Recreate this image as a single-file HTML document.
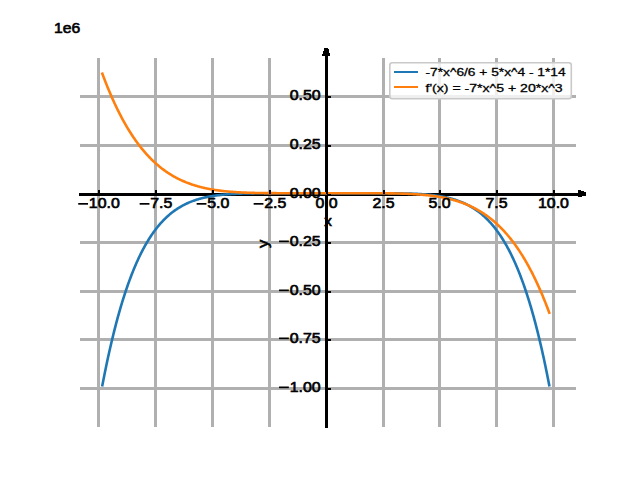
<!DOCTYPE html>
<html><head><meta charset="utf-8"><style>
html,body{margin:0;padding:0;background:#fff;}
svg{display:block;}
.t{font-family:"Liberation Sans",sans-serif;font-size:13.9px;font-weight:normal;fill:#000;stroke:#000;stroke-width:0.6px;}
.l{font-family:"Liberation Sans",sans-serif;font-size:11.3px;fill:#000;stroke:#000;stroke-width:0.3px;}
</style></head><body>
<svg width="640" height="480" viewBox="0 0 640 480">
<rect width="640" height="480" fill="#fff"/>
<g shape-rendering="crispEdges">
<rect x="97" y="58" width="3" height="369" fill="#b0b0b0"/>
<rect x="154" y="58" width="3" height="369" fill="#b0b0b0"/>
<rect x="211" y="58" width="3" height="369" fill="#b0b0b0"/>
<rect x="268" y="58" width="3" height="369" fill="#b0b0b0"/>
<rect x="382" y="58" width="3" height="369" fill="#b0b0b0"/>
<rect x="438" y="58" width="3" height="369" fill="#b0b0b0"/>
<rect x="495" y="58" width="3" height="369" fill="#b0b0b0"/>
<rect x="552" y="58" width="3" height="369" fill="#b0b0b0"/>
<rect x="80" y="95" width="496" height="3" fill="#b0b0b0"/>
<rect x="80" y="144" width="496" height="3" fill="#b0b0b0"/>
<rect x="80" y="241" width="496" height="3" fill="#b0b0b0"/>
<rect x="80" y="290" width="496" height="3" fill="#b0b0b0"/>
<rect x="80" y="338" width="496" height="3" fill="#b0b0b0"/>
<rect x="80" y="387" width="496" height="3" fill="#b0b0b0"/>
</g>
<g shape-rendering="crispEdges">
<rect x="79" y="193" width="507" height="3" fill="#000"/>
<rect x="325" y="48" width="3" height="380" fill="#000"/>
<polygon points="324.6,48 328.2,48 330.2,56 321.8,56" fill="#000"/>
<polygon points="577.8,189.6 586.2,192.1 586.2,195.5 577.8,197.4" fill="#000"/>
</g>
<path d="M102.36,385.34 L103.00,382.02 L103.64,378.74 L104.28,375.51 L104.92,372.33 L105.56,369.19 L106.20,366.10 L106.84,363.05 L107.47,360.05 L108.11,357.09 L108.75,354.18 L109.39,351.31 L110.03,348.48 L110.67,345.69 L111.31,342.95 L111.95,340.25 L112.59,337.59 L113.23,334.96 L113.87,332.38 L114.51,329.84 L115.15,327.33 L115.79,324.87 L116.42,322.44 L117.06,320.05 L117.70,317.69 L118.34,315.37 L118.98,313.09 L119.62,310.84 L120.26,308.63 L120.90,306.46 L121.54,304.31 L122.18,302.20 L122.82,300.13 L123.46,298.09 L124.10,296.08 L124.74,294.10 L125.38,292.15 L126.01,290.24 L126.65,288.35 L127.29,286.50 L127.93,284.67 L128.57,282.88 L129.21,281.11 L129.85,279.38 L130.49,277.67 L131.13,275.99 L131.77,274.34 L132.41,272.72 L133.05,271.12 L133.69,269.55 L134.33,268.01 L134.96,266.49 L135.60,265.00 L136.24,263.53 L136.88,262.09 L137.52,260.67 L138.16,259.28 L138.80,257.91 L139.44,256.56 L140.08,255.24 L140.72,253.94 L141.36,252.66 L142.00,251.41 L142.64,250.18 L143.28,248.96 L143.92,247.78 L144.55,246.61 L145.19,245.46 L145.83,244.33 L146.47,243.23 L147.11,242.14 L147.75,241.07 L148.39,240.03 L149.03,239.00 L149.67,237.99 L150.31,237.00 L150.95,236.02 L151.59,235.07 L152.23,234.13 L152.87,233.21 L153.51,232.31 L154.14,231.42 L154.78,230.55 L155.42,229.70 L156.06,228.86 L156.70,228.04 L157.34,227.24 L157.98,226.45 L158.62,225.68 L159.26,224.92 L159.90,224.17 L160.54,223.44 L161.18,222.73 L161.82,222.02 L162.46,221.34 L163.09,220.66 L163.73,220.00 L164.37,219.36 L165.01,218.72 L165.65,218.10 L166.29,217.49 L166.93,216.89 L167.57,216.31 L168.21,215.74 L168.85,215.18 L169.49,214.63 L170.13,214.09 L170.77,213.56 L171.41,213.05 L172.05,212.54 L172.68,212.05 L173.32,211.57 L173.96,211.09 L174.60,210.63 L175.24,210.18 L175.88,209.73 L176.52,209.30 L177.16,208.88 L177.80,208.46 L178.44,208.05 L179.08,207.66 L179.72,207.27 L180.36,206.89 L181.00,206.52 L181.63,206.16 L182.27,205.80 L182.91,205.46 L183.55,205.12 L184.19,204.79 L184.83,204.46 L185.47,204.15 L186.11,203.84 L186.75,203.54 L187.39,203.24 L188.03,202.96 L188.67,202.68 L189.31,202.40 L189.95,202.14 L190.59,201.88 L191.22,201.62 L191.86,201.37 L192.50,201.13 L193.14,200.90 L193.78,200.67 L194.42,200.44 L195.06,200.22 L195.70,200.01 L196.34,199.80 L196.98,199.60 L197.62,199.40 L198.26,199.21 L198.90,199.02 L199.54,198.84 L200.17,198.66 L200.81,198.48 L201.45,198.32 L202.09,198.15 L202.73,197.99 L203.37,197.84 L204.01,197.68 L204.65,197.54 L205.29,197.39 L205.93,197.25 L206.57,197.12 L207.21,196.99 L207.85,196.86 L208.49,196.73 L209.13,196.61 L209.76,196.49 L210.40,196.38 L211.04,196.27 L211.68,196.16 L212.32,196.06 L212.96,195.96 L213.60,195.86 L214.24,195.76 L214.88,195.67 L215.52,195.58 L216.16,195.49 L216.80,195.41 L217.44,195.32 L218.08,195.24 L218.72,195.17 L219.35,195.09 L219.99,195.02 L220.63,194.95 L221.27,194.88 L221.91,194.82 L222.55,194.75 L223.19,194.69 L223.83,194.63 L224.47,194.57 L225.11,194.52 L225.75,194.46 L226.39,194.41 L227.03,194.36 L227.67,194.31 L228.30,194.27 L228.94,194.22 L229.58,194.18 L230.22,194.13 L230.86,194.09 L231.50,194.05 L232.14,194.02 L232.78,193.98 L233.42,193.95 L234.06,193.91 L234.70,193.88 L235.34,193.85 L235.98,193.82 L236.62,193.79 L237.26,193.76 L237.89,193.73 L238.53,193.71 L239.17,193.68 L239.81,193.66 L240.45,193.64 L241.09,193.61 L241.73,193.59 L242.37,193.57 L243.01,193.55 L243.65,193.54 L244.29,193.52 L244.93,193.50 L245.57,193.48 L246.21,193.47 L246.84,193.45 L247.48,193.44 L248.12,193.43 L248.76,193.41 L249.40,193.40 L250.04,193.39 L250.68,193.38 L251.32,193.37 L251.96,193.36 L252.60,193.35 L253.24,193.34 L253.88,193.33 L254.52,193.32 L255.16,193.31 L255.80,193.31 L256.43,193.30 L257.07,193.29 L257.71,193.29 L258.35,193.28 L258.99,193.27 L259.63,193.27 L260.27,193.26 L260.91,193.26 L261.55,193.26 L262.19,193.25 L262.83,193.25 L263.47,193.24 L264.11,193.24 L264.75,193.24 L265.38,193.23 L266.02,193.23 L266.66,193.23 L267.30,193.23 L267.94,193.22 L268.58,193.22 L269.22,193.22 L269.86,193.22 L270.50,193.22 L271.14,193.21 L271.78,193.21 L272.42,193.21 L273.06,193.21 L273.70,193.21 L274.34,193.21 L274.97,193.21 L275.61,193.21 L276.25,193.20 L276.89,193.20 L277.53,193.20 L278.17,193.20 L278.81,193.20 L279.45,193.20 L280.09,193.20 L280.73,193.20 L281.37,193.20 L282.01,193.20 L282.65,193.20 L283.29,193.20 L283.92,193.20 L284.56,193.20 L285.20,193.20 L285.84,193.20 L286.48,193.20 L287.12,193.20 L287.76,193.20 L288.40,193.20 L289.04,193.20 L289.68,193.20 L290.32,193.20 L290.96,193.20 L291.60,193.20 L292.24,193.20 L292.88,193.20 L293.51,193.20 L294.15,193.20 L294.79,193.20 L295.43,193.20 L296.07,193.20 L296.71,193.20 L297.35,193.20 L297.99,193.20 L298.63,193.20 L299.27,193.20 L299.91,193.20 L300.55,193.20 L301.19,193.20 L301.83,193.20 L302.47,193.20 L303.10,193.20 L303.74,193.20 L304.38,193.20 L305.02,193.20 L305.66,193.20 L306.30,193.20 L306.94,193.20 L307.58,193.20 L308.22,193.20 L308.86,193.20 L309.50,193.20 L310.14,193.20 L310.78,193.20 L311.42,193.20 L312.05,193.20 L312.69,193.20 L313.33,193.20 L313.97,193.20 L314.61,193.20 L315.25,193.20 L315.89,193.20 L316.53,193.20 L317.17,193.20 L317.81,193.20 L318.45,193.20 L319.09,193.20 L319.73,193.20 L320.37,193.20 L321.01,193.20 L321.64,193.20 L322.28,193.20 L322.92,193.20 L323.56,193.20 L324.20,193.20 L324.84,193.20 L325.48,193.20 L326.12,193.20 L326.76,193.20 L327.40,193.20 L328.04,193.20 L328.68,193.20 L329.32,193.20 L329.96,193.20 L330.59,193.20 L331.23,193.20 L331.87,193.20 L332.51,193.20 L333.15,193.20 L333.79,193.20 L334.43,193.20 L335.07,193.20 L335.71,193.20 L336.35,193.20 L336.99,193.20 L337.63,193.20 L338.27,193.20 L338.91,193.20 L339.55,193.20 L340.18,193.20 L340.82,193.20 L341.46,193.20 L342.10,193.20 L342.74,193.20 L343.38,193.20 L344.02,193.20 L344.66,193.20 L345.30,193.20 L345.94,193.20 L346.58,193.20 L347.22,193.20 L347.86,193.20 L348.50,193.20 L349.13,193.20 L349.77,193.20 L350.41,193.20 L351.05,193.20 L351.69,193.20 L352.33,193.20 L352.97,193.20 L353.61,193.20 L354.25,193.20 L354.89,193.20 L355.53,193.20 L356.17,193.20 L356.81,193.20 L357.45,193.20 L358.09,193.20 L358.72,193.20 L359.36,193.20 L360.00,193.20 L360.64,193.20 L361.28,193.20 L361.92,193.20 L362.56,193.20 L363.20,193.20 L363.84,193.20 L364.48,193.20 L365.12,193.20 L365.76,193.20 L366.40,193.20 L367.04,193.20 L367.68,193.20 L368.31,193.20 L368.95,193.20 L369.59,193.20 L370.23,193.20 L370.87,193.20 L371.51,193.20 L372.15,193.20 L372.79,193.20 L373.43,193.20 L374.07,193.20 L374.71,193.20 L375.35,193.20 L375.99,193.21 L376.63,193.21 L377.26,193.21 L377.90,193.21 L378.54,193.21 L379.18,193.21 L379.82,193.21 L380.46,193.21 L381.10,193.22 L381.74,193.22 L382.38,193.22 L383.02,193.22 L383.66,193.22 L384.30,193.23 L384.94,193.23 L385.58,193.23 L386.22,193.23 L386.85,193.24 L387.49,193.24 L388.13,193.24 L388.77,193.25 L389.41,193.25 L390.05,193.26 L390.69,193.26 L391.33,193.26 L391.97,193.27 L392.61,193.27 L393.25,193.28 L393.89,193.29 L394.53,193.29 L395.17,193.30 L395.80,193.31 L396.44,193.31 L397.08,193.32 L397.72,193.33 L398.36,193.34 L399.00,193.35 L399.64,193.36 L400.28,193.37 L400.92,193.38 L401.56,193.39 L402.20,193.40 L402.84,193.41 L403.48,193.43 L404.12,193.44 L404.76,193.45 L405.39,193.47 L406.03,193.48 L406.67,193.50 L407.31,193.52 L407.95,193.54 L408.59,193.55 L409.23,193.57 L409.87,193.59 L410.51,193.61 L411.15,193.64 L411.79,193.66 L412.43,193.68 L413.07,193.71 L413.71,193.73 L414.34,193.76 L414.98,193.79 L415.62,193.82 L416.26,193.85 L416.90,193.88 L417.54,193.91 L418.18,193.95 L418.82,193.98 L419.46,194.02 L420.10,194.05 L420.74,194.09 L421.38,194.13 L422.02,194.18 L422.66,194.22 L423.30,194.27 L423.93,194.31 L424.57,194.36 L425.21,194.41 L425.85,194.46 L426.49,194.52 L427.13,194.57 L427.77,194.63 L428.41,194.69 L429.05,194.75 L429.69,194.82 L430.33,194.88 L430.97,194.95 L431.61,195.02 L432.25,195.09 L432.88,195.17 L433.52,195.24 L434.16,195.32 L434.80,195.41 L435.44,195.49 L436.08,195.58 L436.72,195.67 L437.36,195.76 L438.00,195.86 L438.64,195.96 L439.28,196.06 L439.92,196.16 L440.56,196.27 L441.20,196.38 L441.84,196.49 L442.47,196.61 L443.11,196.73 L443.75,196.86 L444.39,196.99 L445.03,197.12 L445.67,197.25 L446.31,197.39 L446.95,197.54 L447.59,197.68 L448.23,197.84 L448.87,197.99 L449.51,198.15 L450.15,198.32 L450.79,198.48 L451.43,198.66 L452.06,198.84 L452.70,199.02 L453.34,199.21 L453.98,199.40 L454.62,199.60 L455.26,199.80 L455.90,200.01 L456.54,200.22 L457.18,200.44 L457.82,200.67 L458.46,200.90 L459.10,201.13 L459.74,201.37 L460.38,201.62 L461.01,201.88 L461.65,202.14 L462.29,202.40 L462.93,202.68 L463.57,202.96 L464.21,203.24 L464.85,203.54 L465.49,203.84 L466.13,204.15 L466.77,204.46 L467.41,204.79 L468.05,205.12 L468.69,205.46 L469.33,205.80 L469.97,206.16 L470.60,206.52 L471.24,206.89 L471.88,207.27 L472.52,207.66 L473.16,208.05 L473.80,208.46 L474.44,208.88 L475.08,209.30 L475.72,209.73 L476.36,210.18 L477.00,210.63 L477.64,211.09 L478.28,211.57 L478.92,212.05 L479.55,212.54 L480.19,213.05 L480.83,213.56 L481.47,214.09 L482.11,214.63 L482.75,215.18 L483.39,215.74 L484.03,216.31 L484.67,216.89 L485.31,217.49 L485.95,218.10 L486.59,218.72 L487.23,219.36 L487.87,220.00 L488.51,220.66 L489.14,221.34 L489.78,222.02 L490.42,222.73 L491.06,223.44 L491.70,224.17 L492.34,224.92 L492.98,225.68 L493.62,226.45 L494.26,227.24 L494.90,228.04 L495.54,228.86 L496.18,229.70 L496.82,230.55 L497.46,231.42 L498.09,232.31 L498.73,233.21 L499.37,234.13 L500.01,235.07 L500.65,236.02 L501.29,237.00 L501.93,237.99 L502.57,239.00 L503.21,240.03 L503.85,241.07 L504.49,242.14 L505.13,243.23 L505.77,244.33 L506.41,245.46 L507.05,246.61 L507.68,247.78 L508.32,248.96 L508.96,250.18 L509.60,251.41 L510.24,252.66 L510.88,253.94 L511.52,255.24 L512.16,256.56 L512.80,257.91 L513.44,259.28 L514.08,260.67 L514.72,262.09 L515.36,263.53 L516.00,265.00 L516.64,266.49 L517.27,268.01 L517.91,269.55 L518.55,271.12 L519.19,272.72 L519.83,274.34 L520.47,275.99 L521.11,277.67 L521.75,279.38 L522.39,281.11 L523.03,282.88 L523.67,284.67 L524.31,286.50 L524.95,288.35 L525.59,290.24 L526.22,292.15 L526.86,294.10 L527.50,296.08 L528.14,298.09 L528.78,300.13 L529.42,302.20 L530.06,304.31 L530.70,306.46 L531.34,308.63 L531.98,310.84 L532.62,313.09 L533.26,315.37 L533.90,317.69 L534.54,320.05 L535.18,322.44 L535.81,324.87 L536.45,327.33 L537.09,329.84 L537.73,332.38 L538.37,334.96 L539.01,337.59 L539.65,340.25 L540.29,342.95 L540.93,345.69 L541.57,348.48 L542.21,351.31 L542.85,354.18 L543.49,357.09 L544.13,360.05 L544.76,363.05 L545.40,366.10 L546.04,369.19 L546.68,372.33 L547.32,375.51 L547.96,378.74 L548.60,382.02 L549.24,385.34" fill="none" stroke="#1f77b4" stroke-width="2.6" stroke-linecap="square" stroke-linejoin="round"/>
<path d="M102.36,73.73 L103.00,75.45 L103.64,77.15 L104.28,78.83 L104.92,80.49 L105.56,82.14 L106.20,83.76 L106.84,85.36 L107.47,86.95 L108.11,88.51 L108.75,90.06 L109.39,91.59 L110.03,93.10 L110.67,94.60 L111.31,96.07 L111.95,97.53 L112.59,98.97 L113.23,100.39 L113.87,101.80 L114.51,103.19 L115.15,104.56 L115.79,105.92 L116.42,107.25 L117.06,108.58 L117.70,109.88 L118.34,111.17 L118.98,112.45 L119.62,113.71 L120.26,114.95 L120.90,116.17 L121.54,117.39 L122.18,118.58 L122.82,119.76 L123.46,120.93 L124.10,122.08 L124.74,123.22 L125.38,124.34 L126.01,125.45 L126.65,126.54 L127.29,127.62 L127.93,128.69 L128.57,129.74 L129.21,130.78 L129.85,131.80 L130.49,132.81 L131.13,133.81 L131.77,134.80 L132.41,135.77 L133.05,136.73 L133.69,137.67 L134.33,138.60 L134.96,139.52 L135.60,140.43 L136.24,141.33 L136.88,142.21 L137.52,143.08 L138.16,143.94 L138.80,144.79 L139.44,145.63 L140.08,146.45 L140.72,147.27 L141.36,148.07 L142.00,148.86 L142.64,149.64 L143.28,150.41 L143.92,151.17 L144.55,151.91 L145.19,152.65 L145.83,153.38 L146.47,154.09 L147.11,154.80 L147.75,155.49 L148.39,156.18 L149.03,156.85 L149.67,157.52 L150.31,158.17 L150.95,158.82 L151.59,159.46 L152.23,160.08 L152.87,160.70 L153.51,161.31 L154.14,161.91 L154.78,162.50 L155.42,163.08 L156.06,163.66 L156.70,164.22 L157.34,164.78 L157.98,165.32 L158.62,165.86 L159.26,166.39 L159.90,166.91 L160.54,167.43 L161.18,167.93 L161.82,168.43 L162.46,168.92 L163.09,169.40 L163.73,169.88 L164.37,170.35 L165.01,170.81 L165.65,171.26 L166.29,171.70 L166.93,172.14 L167.57,172.57 L168.21,173.00 L168.85,173.41 L169.49,173.82 L170.13,174.23 L170.77,174.62 L171.41,175.01 L172.05,175.40 L172.68,175.77 L173.32,176.14 L173.96,176.51 L174.60,176.87 L175.24,177.22 L175.88,177.56 L176.52,177.90 L177.16,178.24 L177.80,178.56 L178.44,178.89 L179.08,179.20 L179.72,179.52 L180.36,179.82 L181.00,180.12 L181.63,180.42 L182.27,180.71 L182.91,180.99 L183.55,181.27 L184.19,181.54 L184.83,181.81 L185.47,182.08 L186.11,182.34 L186.75,182.59 L187.39,182.84 L188.03,183.08 L188.67,183.32 L189.31,183.56 L189.95,183.79 L190.59,184.02 L191.22,184.24 L191.86,184.46 L192.50,184.67 L193.14,184.88 L193.78,185.09 L194.42,185.29 L195.06,185.49 L195.70,185.68 L196.34,185.87 L196.98,186.06 L197.62,186.24 L198.26,186.42 L198.90,186.59 L199.54,186.77 L200.17,186.93 L200.81,187.10 L201.45,187.26 L202.09,187.42 L202.73,187.57 L203.37,187.72 L204.01,187.87 L204.65,188.01 L205.29,188.16 L205.93,188.29 L206.57,188.43 L207.21,188.56 L207.85,188.69 L208.49,188.82 L209.13,188.94 L209.76,189.06 L210.40,189.18 L211.04,189.30 L211.68,189.41 L212.32,189.52 L212.96,189.63 L213.60,189.73 L214.24,189.84 L214.88,189.94 L215.52,190.03 L216.16,190.13 L216.80,190.22 L217.44,190.31 L218.08,190.40 L218.72,190.49 L219.35,190.57 L219.99,190.66 L220.63,190.74 L221.27,190.82 L221.91,190.89 L222.55,190.97 L223.19,191.04 L223.83,191.11 L224.47,191.18 L225.11,191.25 L225.75,191.31 L226.39,191.38 L227.03,191.44 L227.67,191.50 L228.30,191.56 L228.94,191.61 L229.58,191.67 L230.22,191.72 L230.86,191.78 L231.50,191.83 L232.14,191.88 L232.78,191.92 L233.42,191.97 L234.06,192.02 L234.70,192.06 L235.34,192.10 L235.98,192.15 L236.62,192.19 L237.26,192.22 L237.89,192.26 L238.53,192.30 L239.17,192.33 L239.81,192.37 L240.45,192.40 L241.09,192.44 L241.73,192.47 L242.37,192.50 L243.01,192.53 L243.65,192.55 L244.29,192.58 L244.93,192.61 L245.57,192.63 L246.21,192.66 L246.84,192.68 L247.48,192.71 L248.12,192.73 L248.76,192.75 L249.40,192.77 L250.04,192.79 L250.68,192.81 L251.32,192.83 L251.96,192.85 L252.60,192.86 L253.24,192.88 L253.88,192.90 L254.52,192.91 L255.16,192.93 L255.80,192.94 L256.43,192.95 L257.07,192.97 L257.71,192.98 L258.35,192.99 L258.99,193.00 L259.63,193.01 L260.27,193.03 L260.91,193.04 L261.55,193.05 L262.19,193.05 L262.83,193.06 L263.47,193.07 L264.11,193.08 L264.75,193.09 L265.38,193.09 L266.02,193.10 L266.66,193.11 L267.30,193.11 L267.94,193.12 L268.58,193.13 L269.22,193.13 L269.86,193.14 L270.50,193.14 L271.14,193.15 L271.78,193.15 L272.42,193.15 L273.06,193.16 L273.70,193.16 L274.34,193.16 L274.97,193.17 L275.61,193.17 L276.25,193.17 L276.89,193.18 L277.53,193.18 L278.17,193.18 L278.81,193.18 L279.45,193.19 L280.09,193.19 L280.73,193.19 L281.37,193.19 L282.01,193.19 L282.65,193.19 L283.29,193.19 L283.92,193.20 L284.56,193.20 L285.20,193.20 L285.84,193.20 L286.48,193.20 L287.12,193.20 L287.76,193.20 L288.40,193.20 L289.04,193.20 L289.68,193.20 L290.32,193.20 L290.96,193.20 L291.60,193.20 L292.24,193.20 L292.88,193.20 L293.51,193.20 L294.15,193.20 L294.79,193.20 L295.43,193.20 L296.07,193.20 L296.71,193.20 L297.35,193.20 L297.99,193.20 L298.63,193.20 L299.27,193.20 L299.91,193.20 L300.55,193.20 L301.19,193.20 L301.83,193.20 L302.47,193.20 L303.10,193.20 L303.74,193.20 L304.38,193.20 L305.02,193.20 L305.66,193.20 L306.30,193.20 L306.94,193.20 L307.58,193.20 L308.22,193.20 L308.86,193.20 L309.50,193.20 L310.14,193.20 L310.78,193.20 L311.42,193.20 L312.05,193.20 L312.69,193.20 L313.33,193.20 L313.97,193.20 L314.61,193.20 L315.25,193.20 L315.89,193.20 L316.53,193.20 L317.17,193.20 L317.81,193.20 L318.45,193.20 L319.09,193.20 L319.73,193.20 L320.37,193.20 L321.01,193.20 L321.64,193.20 L322.28,193.20 L322.92,193.20 L323.56,193.20 L324.20,193.20 L324.84,193.20 L325.48,193.20 L326.12,193.20 L326.76,193.20 L327.40,193.20 L328.04,193.20 L328.68,193.20 L329.32,193.20 L329.96,193.20 L330.59,193.20 L331.23,193.20 L331.87,193.20 L332.51,193.20 L333.15,193.20 L333.79,193.20 L334.43,193.20 L335.07,193.20 L335.71,193.20 L336.35,193.20 L336.99,193.20 L337.63,193.20 L338.27,193.20 L338.91,193.20 L339.55,193.20 L340.18,193.20 L340.82,193.20 L341.46,193.20 L342.10,193.20 L342.74,193.20 L343.38,193.20 L344.02,193.20 L344.66,193.20 L345.30,193.20 L345.94,193.20 L346.58,193.20 L347.22,193.20 L347.86,193.20 L348.50,193.20 L349.13,193.20 L349.77,193.20 L350.41,193.20 L351.05,193.20 L351.69,193.20 L352.33,193.20 L352.97,193.20 L353.61,193.20 L354.25,193.20 L354.89,193.20 L355.53,193.20 L356.17,193.20 L356.81,193.20 L357.45,193.20 L358.09,193.20 L358.72,193.20 L359.36,193.20 L360.00,193.20 L360.64,193.20 L361.28,193.20 L361.92,193.20 L362.56,193.20 L363.20,193.20 L363.84,193.20 L364.48,193.20 L365.12,193.20 L365.76,193.20 L366.40,193.20 L367.04,193.20 L367.68,193.20 L368.31,193.21 L368.95,193.21 L369.59,193.21 L370.23,193.21 L370.87,193.21 L371.51,193.21 L372.15,193.21 L372.79,193.22 L373.43,193.22 L374.07,193.22 L374.71,193.22 L375.35,193.23 L375.99,193.23 L376.63,193.23 L377.26,193.24 L377.90,193.24 L378.54,193.24 L379.18,193.25 L379.82,193.25 L380.46,193.25 L381.10,193.26 L381.74,193.26 L382.38,193.27 L383.02,193.27 L383.66,193.28 L384.30,193.29 L384.94,193.29 L385.58,193.30 L386.22,193.31 L386.85,193.31 L387.49,193.32 L388.13,193.33 L388.77,193.34 L389.41,193.35 L390.05,193.35 L390.69,193.36 L391.33,193.37 L391.97,193.39 L392.61,193.40 L393.25,193.41 L393.89,193.42 L394.53,193.43 L395.17,193.45 L395.80,193.46 L396.44,193.47 L397.08,193.49 L397.72,193.50 L398.36,193.52 L399.00,193.54 L399.64,193.55 L400.28,193.57 L400.92,193.59 L401.56,193.61 L402.20,193.63 L402.84,193.65 L403.48,193.67 L404.12,193.69 L404.76,193.72 L405.39,193.74 L406.03,193.77 L406.67,193.79 L407.31,193.82 L407.95,193.85 L408.59,193.87 L409.23,193.90 L409.87,193.93 L410.51,193.96 L411.15,194.00 L411.79,194.03 L412.43,194.07 L413.07,194.10 L413.71,194.14 L414.34,194.18 L414.98,194.21 L415.62,194.25 L416.26,194.30 L416.90,194.34 L417.54,194.38 L418.18,194.43 L418.82,194.48 L419.46,194.52 L420.10,194.57 L420.74,194.62 L421.38,194.68 L422.02,194.73 L422.66,194.79 L423.30,194.84 L423.93,194.90 L424.57,194.96 L425.21,195.02 L425.85,195.09 L426.49,195.15 L427.13,195.22 L427.77,195.29 L428.41,195.36 L429.05,195.43 L429.69,195.51 L430.33,195.58 L430.97,195.66 L431.61,195.74 L432.25,195.83 L432.88,195.91 L433.52,196.00 L434.16,196.09 L434.80,196.18 L435.44,196.27 L436.08,196.37 L436.72,196.46 L437.36,196.56 L438.00,196.67 L438.64,196.77 L439.28,196.88 L439.92,196.99 L440.56,197.10 L441.20,197.22 L441.84,197.34 L442.47,197.46 L443.11,197.58 L443.75,197.71 L444.39,197.84 L445.03,197.97 L445.67,198.11 L446.31,198.24 L446.95,198.39 L447.59,198.53 L448.23,198.68 L448.87,198.83 L449.51,198.98 L450.15,199.14 L450.79,199.30 L451.43,199.47 L452.06,199.63 L452.70,199.81 L453.34,199.98 L453.98,200.16 L454.62,200.34 L455.26,200.53 L455.90,200.72 L456.54,200.91 L457.18,201.11 L457.82,201.31 L458.46,201.52 L459.10,201.73 L459.74,201.94 L460.38,202.16 L461.01,202.38 L461.65,202.61 L462.29,202.84 L462.93,203.08 L463.57,203.32 L464.21,203.56 L464.85,203.81 L465.49,204.06 L466.13,204.32 L466.77,204.59 L467.41,204.86 L468.05,205.13 L468.69,205.41 L469.33,205.69 L469.97,205.98 L470.60,206.28 L471.24,206.58 L471.88,206.88 L472.52,207.20 L473.16,207.51 L473.80,207.84 L474.44,208.16 L475.08,208.50 L475.72,208.84 L476.36,209.18 L477.00,209.53 L477.64,209.89 L478.28,210.26 L478.92,210.63 L479.55,211.00 L480.19,211.39 L480.83,211.78 L481.47,212.17 L482.11,212.58 L482.75,212.99 L483.39,213.40 L484.03,213.83 L484.67,214.26 L485.31,214.70 L485.95,215.14 L486.59,215.59 L487.23,216.05 L487.87,216.52 L488.51,217.00 L489.14,217.48 L489.78,217.97 L490.42,218.47 L491.06,218.97 L491.70,219.49 L492.34,220.01 L492.98,220.54 L493.62,221.08 L494.26,221.62 L494.90,222.18 L495.54,222.74 L496.18,223.32 L496.82,223.90 L497.46,224.49 L498.09,225.09 L498.73,225.70 L499.37,226.32 L500.01,226.94 L500.65,227.58 L501.29,228.23 L501.93,228.88 L502.57,229.55 L503.21,230.22 L503.85,230.91 L504.49,231.60 L505.13,232.31 L505.77,233.02 L506.41,233.75 L507.05,234.49 L507.68,235.23 L508.32,235.99 L508.96,236.76 L509.60,237.54 L510.24,238.33 L510.88,239.13 L511.52,239.95 L512.16,240.77 L512.80,241.61 L513.44,242.46 L514.08,243.32 L514.72,244.19 L515.36,245.07 L516.00,245.97 L516.64,246.88 L517.27,247.80 L517.91,248.73 L518.55,249.67 L519.19,250.63 L519.83,251.60 L520.47,252.59 L521.11,253.59 L521.75,254.60 L522.39,255.62 L523.03,256.66 L523.67,257.71 L524.31,258.78 L524.95,259.86 L525.59,260.95 L526.22,262.06 L526.86,263.18 L527.50,264.32 L528.14,265.47 L528.78,266.64 L529.42,267.82 L530.06,269.01 L530.70,270.23 L531.34,271.45 L531.98,272.69 L532.62,273.95 L533.26,275.23 L533.90,276.52 L534.54,277.82 L535.18,279.15 L535.81,280.48 L536.45,281.84 L537.09,283.21 L537.73,284.60 L538.37,286.01 L539.01,287.43 L539.65,288.87 L540.29,290.33 L540.93,291.80 L541.57,293.30 L542.21,294.81 L542.85,296.34 L543.49,297.89 L544.13,299.45 L544.76,301.04 L545.40,302.64 L546.04,304.26 L546.68,305.91 L547.32,307.57 L547.96,309.25 L548.60,310.95 L549.24,312.67" fill="none" stroke="#ff7f0e" stroke-width="2.6" stroke-linecap="square" stroke-linejoin="round"/>
<g shape-rendering="crispEdges">
<rect x="98" y="190" width="1.5" height="4" fill="#000"/>
<rect x="155" y="190" width="1.5" height="4" fill="#000"/>
<rect x="212" y="190" width="1.5" height="4" fill="#000"/>
<rect x="269" y="190" width="1.5" height="4" fill="#000"/>
<rect x="383" y="190" width="1.5" height="4" fill="#000"/>
<rect x="439" y="190" width="1.5" height="4" fill="#000"/>
<rect x="496" y="190" width="1.5" height="4" fill="#000"/>
<rect x="553" y="190" width="1.5" height="4" fill="#000"/>
<rect x="326" y="190" width="1.5" height="4" fill="#000"/>
<rect x="327" y="96" width="4" height="1.5" fill="#000"/>
<rect x="327" y="145" width="4" height="1.5" fill="#000"/>
<rect x="327" y="242" width="4" height="1.5" fill="#000"/>
<rect x="327" y="291" width="4" height="1.5" fill="#000"/>
<rect x="327" y="339" width="4" height="1.5" fill="#000"/>
<rect x="327" y="388" width="4" height="1.5" fill="#000"/>
<rect x="327" y="194" width="4" height="1.5" fill="#000"/>
</g>
<rect x="78.22" y="203.00" width="9.8" height="1.7" fill="#000"/>
<text x="88.86" y="208" text-anchor="start" class="t" textLength="30.92" lengthAdjust="spacingAndGlyphs">10.0</text>
<rect x="139.64" y="203.00" width="9.8" height="1.7" fill="#000"/>
<text x="150.28" y="208" text-anchor="start" class="t" textLength="22.08" lengthAdjust="spacingAndGlyphs">7.5</text>
<rect x="196.64" y="203.00" width="9.8" height="1.7" fill="#000"/>
<text x="207.28" y="208" text-anchor="start" class="t" textLength="22.08" lengthAdjust="spacingAndGlyphs">5.0</text>
<rect x="253.64" y="203.00" width="9.8" height="1.7" fill="#000"/>
<text x="264.28" y="208" text-anchor="start" class="t" textLength="22.08" lengthAdjust="spacingAndGlyphs">2.5</text>
<text x="315.46" y="208" text-anchor="start" class="t" textLength="22.08" lengthAdjust="spacingAndGlyphs">0.0</text>
<text x="372.46" y="208" text-anchor="start" class="t" textLength="22.08" lengthAdjust="spacingAndGlyphs">2.5</text>
<text x="428.46" y="208" text-anchor="start" class="t" textLength="22.08" lengthAdjust="spacingAndGlyphs">5.0</text>
<text x="485.46" y="208" text-anchor="start" class="t" textLength="22.08" lengthAdjust="spacingAndGlyphs">7.5</text>
<text x="538.04" y="208" text-anchor="start" class="t" textLength="30.92" lengthAdjust="spacingAndGlyphs">10.0</text>
<text x="289.68" y="99.5" text-anchor="start" class="t" textLength="30.92" lengthAdjust="spacingAndGlyphs">0.50</text>
<text x="289.68" y="148.5" text-anchor="start" class="t" textLength="30.92" lengthAdjust="spacingAndGlyphs">0.25</text>
<text x="289.68" y="197.5" text-anchor="start" class="t" textLength="30.92" lengthAdjust="spacingAndGlyphs">0.00</text>
<rect x="279.04" y="240.50" width="9.8" height="1.7" fill="#000"/>
<text x="289.68" y="245.5" text-anchor="start" class="t" textLength="30.92" lengthAdjust="spacingAndGlyphs">0.25</text>
<rect x="279.04" y="289.50" width="9.8" height="1.7" fill="#000"/>
<text x="289.68" y="294.5" text-anchor="start" class="t" textLength="30.92" lengthAdjust="spacingAndGlyphs">0.50</text>
<rect x="279.04" y="337.50" width="9.8" height="1.7" fill="#000"/>
<text x="289.68" y="342.5" text-anchor="start" class="t" textLength="30.92" lengthAdjust="spacingAndGlyphs">0.75</text>
<rect x="279.04" y="386.50" width="9.8" height="1.7" fill="#000"/>
<text x="289.68" y="391.5" text-anchor="start" class="t" textLength="30.92" lengthAdjust="spacingAndGlyphs">1.00</text>
<text x="54" y="33" text-anchor="start" class="t" textLength="26.21" lengthAdjust="spacingAndGlyphs">1e6</text>
<text x="328.1" y="225.5" text-anchor="middle" class="t" textLength="7.6" lengthAdjust="spacingAndGlyphs">x</text>
<text transform="translate(267.8,244) rotate(-90)" text-anchor="middle" class="t" textLength="8.22" lengthAdjust="spacingAndGlyphs">y</text>
<rect x="389.8" y="62.8" width="181.5" height="36" rx="2.5" ry="2.5" fill="#fff" fill-opacity="0.8" stroke="#c9c9c9" stroke-width="1.6"/>
<rect x="394" y="71" width="24" height="2" fill="#1f77b4"/>
<rect x="394" y="86" width="24" height="2" fill="#ff7f0e"/>
<text x="425.5" y="75.9" text-anchor="start" class="l" textLength="140.17" lengthAdjust="spacingAndGlyphs">-7*x^6/6 + 5*x^4 - 1*14</text>
<text x="425.5" y="91.8" text-anchor="start" class="l" textLength="137.19" lengthAdjust="spacingAndGlyphs">f'(x) = -7*x^5 + 20*x^3</text>
</svg>
</body></html>
